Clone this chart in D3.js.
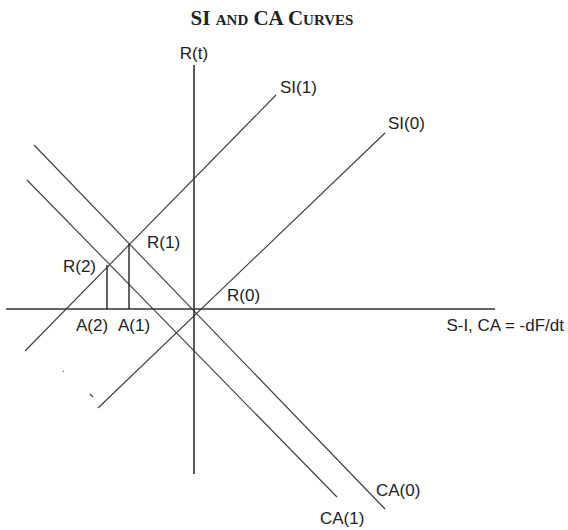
<!DOCTYPE html>
<html>
<head>
<meta charset="utf-8">
<script src="https://cdn.jsdelivr.net/npm/d3@7"></script>
<style>
  body { margin: 0; background: #fff; }
  svg { display: block; }
  .lbl { font-family: "Liberation Sans", Arial, sans-serif; font-size: 17px; fill: #222; }
  .title { font-family: "Liberation Serif", "Times New Roman", serif; font-weight: bold; font-size: 21px; font-variant: small-caps; fill: #222; }
</style>
</head>
<body>
<div id="chart"></div>
<script>
// axis extents (model units)
const axisX = [-9.4, 15.05];
const axisY = [-8.25, 12.2];

// SI and CA curves, straight lines given by their two end points
const siLines = [
    { name: "SI(1)", x: [-8.45, 4.1], y: [-2.1, 10.7] },
    { name: "SI(0)", x: [-4.8, 9.55], y: [-4.95, 8.8] }
];
const caLines = [
    { name: "CA(0)", x: [-8.0, 9.55], y: [8.2, -10.0] },
    { name: "CA(1)", x: [-8.35, 7.15], y: [6.45, -9.4] }
];

// equilibrium points and their projections on the horizontal axis
const rPoints = [
    { name: "R(0)", x: 0, y: 0 },
    { name: "R(1)", x: -3.25, y: 3.25 },
    { name: "R(2)", x: -4.35, y: 2.2 }
];
const aNames = ["", "A(1)", "A(2)"];

// little scan specks left of SI(0)
const specks = [
    { x: [-6.55, -6.52], y: [-3.1, -3.13] },
    { x: [-5.2, -5.05], y: [-4.25, -4.4] }
];

const width = 568, height = 530;

const svg = d3.select("#chart")
    .append("svg")
    .attr("width", width)
    .attr("height", height);

const xScale = d3.scaleLinear().domain([-9.7, 18.7]).range([0, width]);
const yScale = d3.scaleLinear().domain([-11.05, 15.45]).range([height, 0]);

// title
svg.append("text")
    .attr("class", "title")
    .attr("x", 272)
    .attr("y", 25)
    .attr("text-anchor", "middle")
    .text("SI and CA Curves");

// axes
svg.append("line")
    .attr("x1", xScale(axisX[0])).attr("x2", xScale(axisX[1]))
    .attr("y1", yScale(0)).attr("y2", yScale(0))
    .attr("stroke", "#333").attr("stroke-width", 1.6);
svg.append("line")
    .attr("x1", xScale(0)).attr("x2", xScale(0))
    .attr("y1", yScale(axisY[0])).attr("y2", yScale(axisY[1]))
    .attr("stroke", "#333").attr("stroke-width", 1.6);

svg.append("text")
    .attr("class", "lbl")
    .attr("x", xScale(0))
    .attr("y", yScale(axisY[1]) - 12)
    .attr("dy", "0.35em")
    .attr("text-anchor", "middle")
    .text("R(t)");

svg.append("text")
    .attr("class", "lbl")
    .attr("x", xScale(axisX[1]) + 69)
    .attr("y", yScale(0) + 16)
    .attr("dy", "0.35em")
    .attr("text-anchor", "end")
    .text("S-I, CA = -dF/dt");

// diagonal curves
const allLines = siLines.concat(caLines);
svg.selectAll(".curve")
    .data(allLines.concat(specks))
    .enter().append("line")
    .attr("class", "curve")
    .attr("x1", d => xScale(d.x[0])).attr("x2", d => xScale(d.x[1]))
    .attr("y1", d => yScale(d.y[0])).attr("y2", d => yScale(d.y[1]))
    .attr("stroke", "#3a3a3a")
    .attr("stroke-width", 1.1);

// curve labels: SI labels sit at the upper end, CA labels at the lower end
const curveOffset = {
    "SI(1)": [4, -8],
    "SI(0)": [3, -10],
    "CA(0)": [-9, -19],
    "CA(1)": [-17, 21]
};
svg.selectAll(".curve-label")
    .data(allLines)
    .enter().append("text")
    .attr("class", "lbl curve-label")
    .attr("x", d => xScale(d.x[1]) + curveOffset[d.name][0])
    .attr("y", d => yScale(d.y[1]) + curveOffset[d.name][1])
    .attr("dy", "0.35em")
    .text(d => d.name);

// drop lines from R(1), R(2) to the axis
svg.selectAll(".drop")
    .data(rPoints.filter(d => d.x !== 0))
    .enter().append("line")
    .attr("class", "drop")
    .attr("x1", d => xScale(d.x)).attr("x2", d => xScale(d.x))
    .attr("y1", d => yScale(d.y)).attr("y2", d => yScale(0))
    .attr("stroke", "#222")
    .attr("stroke-width", 1.4);

// R labels
const rOffset = { "R(0)": [33, -14, "start"], "R(1)": [18, -2, "start"], "R(2)": [-11, 1, "end"] };
svg.selectAll(".r-label")
    .data(rPoints)
    .enter().append("text")
    .attr("class", "lbl r-label")
    .attr("x", d => xScale(d.x) + rOffset[d.name][0])
    .attr("y", d => yScale(d.y) + rOffset[d.name][1])
    .attr("dy", "0.35em")
    .attr("text-anchor", d => rOffset[d.name][2])
    .text(d => d.name);

// A labels under the axis
const aShift = { "A(1)": 5, "A(2)": -15 };
svg.selectAll(".a-label")
    .data(rPoints.map((d, i) => ({ x: d.x, name: aNames[i] })).filter(d => d.name))
    .enter().append("text")
    .attr("class", "lbl a-label")
    .attr("x", d => xScale(d.x) + aShift[d.name])
    .attr("y", yScale(0) + 16)
    .attr("dy", "0.35em")
    .attr("text-anchor", "middle")
    .text(d => d.name);
</script>
</body>
</html>
